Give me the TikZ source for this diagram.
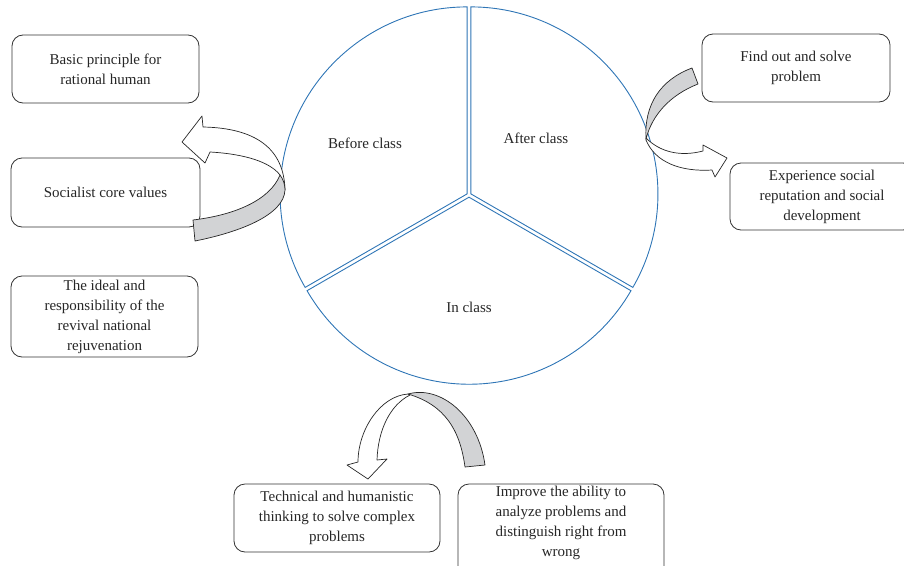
\documentclass[tikz,border=0pt]{standalone}
\usepackage{fontspec}
\setmainfont{Liberation Serif}
\definecolor{pieblue}{RGB}{46,117,182}
\definecolor{ribgray}{RGB}{210,211,213}
\begin{document}
\begin{tikzpicture}[x=1pt,y=-1pt,
  box/.style={draw=black!80, line width=0.8pt, rounded corners=11pt, align=center, inner sep=0pt, font=\rmfamily\fontsize{15}{20}\selectfont, text=black!85},
  sector/.style={draw=pieblue, line width=0.9pt, line join=miter},
  lab/.style={font=\rmfamily\fontsize{15}{20}\selectfont, text=black!85, align=center},
  ribbon/.style={draw=black!85, line width=0.7pt, line join=round},
]
\useasboundingbox (0,0) rectangle (904,565);
\clip (0,0) rectangle (904,565);

% exploded pie
\coordinate (O) at (469,195);
\draw[sector] ([shift={(150:2.2pt)}]O) -- ++(90:187pt) arc[start angle=90,end angle=210,radius=187pt] -- cycle;
\draw[sector] ([shift={(30:2.2pt)}]O) -- ++(-30:187pt) arc[start angle=-30,end angle=90,radius=187pt] -- cycle;
\draw[sector] ([shift={(270:2.2pt)}]O) -- ++(210:187pt) arc[start angle=210,end angle=330,radius=187pt] -- cycle;

\node[lab] (before) at (365,143) {Before class};
\node[lab] (after) at (536,138) {After class};
\node[lab] (inclass) at (469,307) {In class};

% boxes
\node[box, minimum width=187pt, minimum height=68pt] (b1) at (105.5,69) {Basic principle for\\rational human};
\node[box, minimum width=189pt, minimum height=69pt] (b2) at (105.5,192.5) {Socialist core values};
\node[box, minimum width=187pt, minimum height=81pt] (b3) at (104.5,316.5) {The ideal and\\responsibility of the\\revival national\\rejuvenation};
\node[box, minimum width=188pt, minimum height=68pt] (b4) at (796,68) {Find out and solve\\problem};
\node[box, minimum width=184pt, minimum height=67pt] (b5) at (822,196.5) {Experience social\\reputation and social\\development};
\node[box, minimum width=206pt, minimum height=68pt] (b6) at (337,518) {Technical and humanistic\\thinking to solve complex\\problems};
\node[box, minimum width=206pt, minimum height=100pt] (b7) at (561,534) {};
\node[lab] (b7t) at (561,523) {Improve the ability to\\analyze problems and\\distinguish right from\\wrong};

% curled arrow near Before class
\draw[ribbon, fill=white] (280,175) .. controls (270,162) and (245,154) .. (210,152) -- (205,163) -- (182,142) -- (202,116) -- (203,127) .. controls (255,128) and (284,148) .. (285,190) -- cycle;
\draw[ribbon, fill=ribgray] (280,175) .. controls (270,200) and (235,215) .. (193,220) -- (195,241) .. controls (240,232) and (284,215) .. (285,190) .. controls (285,184) and (283,179) .. (280,175) -- cycle;

% curled arrow near After class
\draw[ribbon, fill=white] (646,138) .. controls (660,152) and (680,157) .. (703,151) -- (703,145) -- (727,158) -- (715,177) -- (712,170) .. controls (680,172) and (655,162) .. (646,140) -- cycle;
\draw[ribbon, fill=ribgray] (692,68) .. controls (660,80) and (644,105) .. (646,139) .. controls (652,115) and (670,95) .. (698,84) -- cycle;

% curled arrow below In class
\draw[ribbon, fill=white] (408,394) .. controls (380,396) and (358,430) .. (358,462) -- (347,465) -- (368,479) -- (387,459) -- (377,460) .. controls (378,430) and (390,405) .. (410,395) -- cycle;
\draw[ribbon, fill=ribgray] (408,394) .. controls (440,385) and (478,415) .. (485,465) -- (465,467) .. controls (460,430) and (445,405) .. (408,394) -- cycle;
\end{tikzpicture}
\end{document}
